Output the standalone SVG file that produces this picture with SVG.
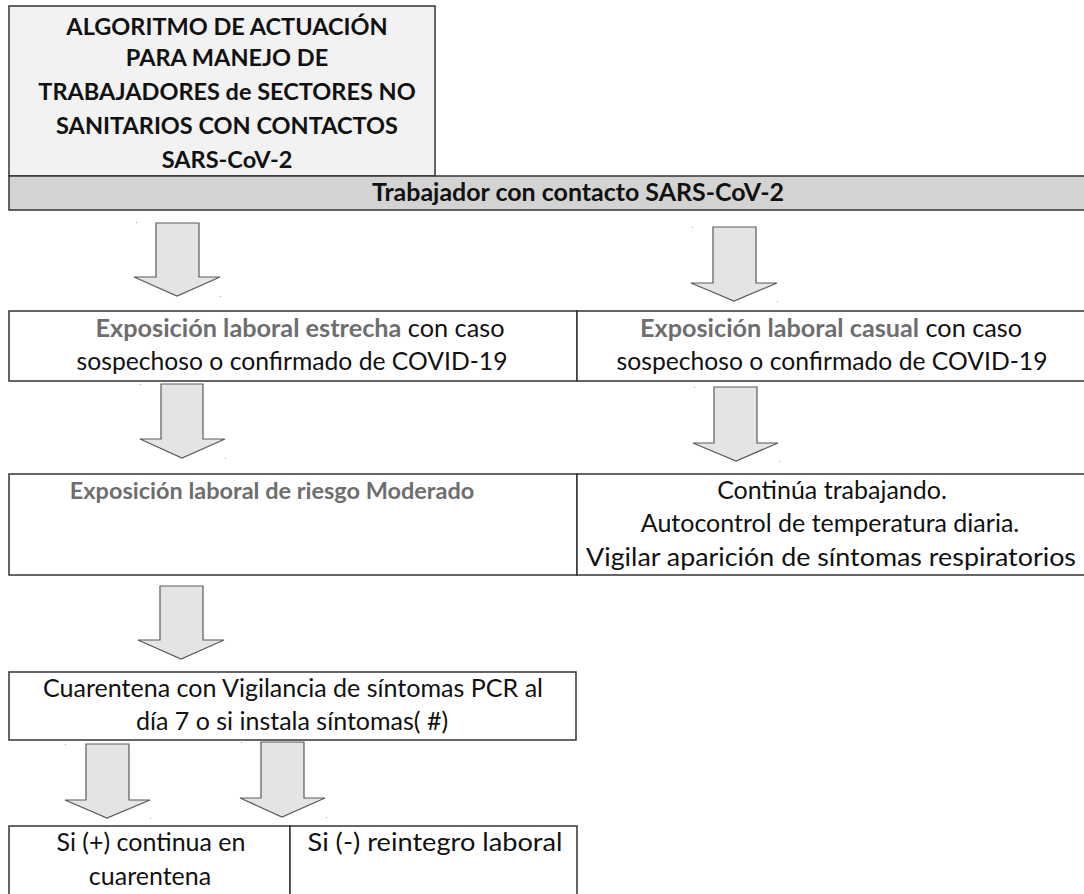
<svg xmlns="http://www.w3.org/2000/svg" width="1084" height="894" viewBox="0 0 1084 894">
<style>
.box{fill:#ffffff;stroke:#333333;stroke-width:1.5}
.title{fill:#f2f2f2;stroke:#333333;stroke-width:1.5}
.hdr{fill:#d3d3d3;stroke:#333333;stroke-width:1.5}
.arr{fill:#e4e4e4;stroke:#5a5a5a;stroke-width:1.2;stroke-linejoin:miter}
.dot{fill:#9a9a9a}
text{font-family:Lato,"Liberation Sans",sans-serif;fill:#111111;text-anchor:middle}
.tt{font-size:23.5px;font-weight:bold}
.hd{font-size:24px;font-weight:bold}
.bd{font-size:25px}
.g{fill:#6e6e6e;font-weight:bold}
</style>
<rect width="1084" height="894" fill="#ffffff"/>
<g id="title">
<rect class="title" x="9" y="6" width="426" height="170"/>
<text class="tt" x="227" y="35">ALGORITMO DE ACTUACIÓN</text>
<text class="tt" x="227" y="66">PARA MANEJO DE</text>
<text class="tt" x="227" y="100">TRABAJADORES de SECTORES NO</text>
<text class="tt" x="227" y="134">SANITARIOS CON CONTACTOS</text>
<text class="tt" x="227" y="168">SARS-CoV-2</text>
</g>
<g id="header">
<rect class="hdr" x="9" y="176" width="1090" height="34"/>
<text class="hd" x="578" y="201" textLength="412" lengthAdjust="spacingAndGlyphs">Trabajador con contacto SARS-CoV-2</text>
</g>
<g id="estrecha">
<rect class="box" x="9" y="311" width="568" height="70"/>
<text class="bd" x="300" y="337" textLength="409" lengthAdjust="spacingAndGlyphs"><tspan class="g">Exposición laboral estrecha</tspan> con caso</text>
<text class="bd" x="292" y="370" textLength="431" lengthAdjust="spacingAndGlyphs">sospechoso o confirmado de COVID-19</text>
</g>
<g id="casual">
<rect class="box" x="577" y="311" width="520" height="70"/>
<text class="bd" x="831" y="337" textLength="382" lengthAdjust="spacingAndGlyphs"><tspan class="g">Exposición laboral casual</tspan> con caso</text>
<text class="bd" x="832" y="370" textLength="431" lengthAdjust="spacingAndGlyphs">sospechoso o confirmado de COVID-19</text>
</g>
<g id="moderado">
<rect class="box" x="9" y="474" width="568" height="101"/>
<text class="g" x="272" y="499" style="font-size:23.5px">Exposición laboral de riesgo Moderado</text>
</g>
<g id="continua">
<rect class="box" x="577" y="474" width="520" height="101"/>
<text class="bd" x="832" y="499">Continúa trabajando.</text>
<text class="bd" x="830" y="532">Autocontrol de temperatura diaria.</text>
<text class="bd" x="831" y="566" textLength="490" lengthAdjust="spacingAndGlyphs">Vigilar aparición de síntomas respiratorios</text>
</g>
<g id="cuarentena">
<rect class="box" x="9" y="672" width="567" height="68"/>
<text class="bd" x="293" y="697" textLength="500" lengthAdjust="spacingAndGlyphs">Cuarentena con Vigilancia de síntomas PCR al</text>
<text class="bd" x="292" y="730">día 7 o si instala síntomas( #)</text>
</g>
<g id="positivo">
<rect class="box" x="9" y="826" width="281" height="80"/>
<text class="bd" x="151" y="851">Si (+) continua en</text>
<text class="bd" x="150" y="885">cuarentena</text>
</g>
<g id="negativo">
<rect class="box" x="290" y="826" width="287" height="80"/>
<text class="bd" x="435" y="851" textLength="255" lengthAdjust="spacingAndGlyphs">Si (-) reintegro laboral</text>
</g>
<g id="connectors">
<polygon class="arr" points="156,223 199,223 199,277 220,277 177,296 134,277 156,277"/>
<polygon class="arr" points="713,227 756,227 756,283 777,283 734,301 691,283 713,283"/>
<polygon class="arr" points="161,384 203,384 203,439 225,439 182,458 140,439 161,439"/>
<polygon class="arr" points="714,387 757,387 757,443 778,443 736,461 693,443 714,443"/>
<polygon class="arr" points="160,586 203,586 203,640 224,640 181,659 138,640 160,640"/>
<polygon class="arr" points="86,744 129,744 129,800 150,800 107,818 65,800 86,800"/>
<polygon class="arr" points="261,742 304,742 304,798 325,798 282,817 240,798 261,798"/>
<rect class="dot" x="136" y="222" width="1" height="1"/>
<rect class="dot" x="220" y="296" width="1" height="1"/>
<rect class="dot" x="692" y="227" width="1" height="1"/>
<rect class="dot" x="777" y="301" width="1" height="1"/>
<rect class="dot" x="140" y="384" width="1" height="1"/>
<rect class="dot" x="225" y="458" width="1" height="1"/>
<rect class="dot" x="694" y="387" width="1" height="1"/>
<rect class="dot" x="779" y="461" width="1" height="1"/>
<rect class="dot" x="65" y="744" width="1" height="1"/>
<rect class="dot" x="150" y="818" width="1" height="1"/>
<rect class="dot" x="241" y="742" width="1" height="1"/>
<rect class="dot" x="326" y="817" width="1" height="1"/>
</g>
</svg>
